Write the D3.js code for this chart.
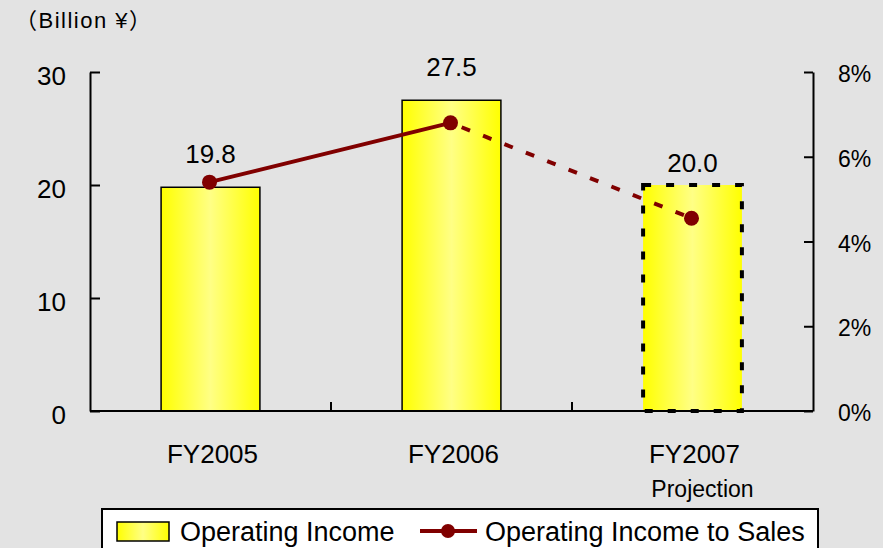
<!DOCTYPE html>
<html>
<head>
<meta charset="utf-8">
<script src="https://cdn.jsdelivr.net/npm/d3@7"></script>
<style>
  body { margin: 0; background: #e3e3e3; }
  svg text { font-family: "Liberation Sans", Arial, "Noto Sans CJK JP", sans-serif; fill: #000; }
</style>
</head>
<body>
<div id="chart"></div>
<script>
// data
const categories = ["FY2005", "FY2006", "FY2007"];
const operatingIncome = [19.8, 27.5, 20.0];      // billion yen
const incomeToSales = [5.4, 6.8, 4.55];          // percent
const projected = [false, false, true];
const leftTicks = [0, 10, 20, 30];
const rightTicks = [0, 2, 4, 6, 8];

const width = 883, height = 548;
const plot = { left: 90, right: 813, top: 72, bottom: 411 };

const svg = d3.select("#chart").append("svg")
    .attr("width", width)
    .attr("height", height);

svg.append("rect").attr("width", width).attr("height", height).attr("fill", "#e3e3e3");

// yellow bar fill, lighter in the middle
const grad = svg.append("defs").append("linearGradient")
    .attr("id", "barFill")
    .attr("x1", "0%").attr("x2", "100%").attr("y1", "0%").attr("y2", "0%");
grad.append("stop").attr("offset", "0%").attr("stop-color", "#ffff00");
grad.append("stop").attr("offset", "50%").attr("stop-color", "#ffff85");
grad.append("stop").attr("offset", "100%").attr("stop-color", "#ffff00");

const x = d3.scaleBand().domain(categories).range([plot.left, plot.right]);
const y = d3.scaleLinear().domain([0, 30]).range([plot.bottom, plot.top]);
const yR = d3.scaleLinear().domain([0, 8]).range([plot.bottom, plot.top]);
const barW = x.bandwidth() * 0.41;
const cx = c => x(c) + x.bandwidth() / 2;

// unit label
svg.append("text")
    .attr("x", 15).attr("y", 28)
    .style("font-size", "22px")
    .style("letter-spacing", "1.5px")
    .text("（Billion ¥）");

// left axis, ticks pointing inward
const left = svg.append("g")
    .attr("transform", `translate(${plot.left},0)`)
    .call(d3.axisLeft(y).tickValues(leftTicks).tickSizeInner(-10).tickSizeOuter(0).tickPadding(24));
left.selectAll("text").style("font-size", "26px").attr("dy", "0.47em");

// right axis
const right = svg.append("g")
    .attr("transform", `translate(${plot.right},0)`)
    .call(d3.axisRight(yR).tickValues(rightTicks).tickFormat(d => d + "%")
        .tickSizeInner(-9).tickSizeOuter(0).tickPadding(25));
right.selectAll("text").style("font-size", "23px").attr("dy", "0.42em");

[left, right].forEach(g => {
    g.select(".domain").attr("stroke", "#000").attr("stroke-width", 2);
    g.selectAll(".tick line").attr("stroke", "#000").attr("stroke-width", 2);
    g.selectAll("text").attr("font-family", null);
});

// bars
svg.selectAll(".bar")
    .data(categories)
    .enter().append("rect")
    .attr("class", "bar")
    .attr("x", c => cx(c) - barW / 2)
    .attr("y", (c, i) => y(operatingIncome[i]))
    .attr("width", barW)
    .attr("height", (c, i) => y(0) - y(operatingIncome[i]))
    .attr("fill", "url(#barFill)")
    .attr("stroke", "#000")
    .attr("stroke-width", (c, i) => projected[i] ? 4 : 1.5)
    .attr("stroke-dasharray", (c, i) => projected[i] ? "8,15" : null);

// bottom axis with ticks between categories
svg.append("line")
    .attr("x1", plot.left).attr("x2", plot.right)
    .attr("y1", plot.bottom).attr("y2", plot.bottom)
    .attr("stroke", "#000").attr("stroke-width", 2);
svg.selectAll(".xtick")
    .data(categories.slice(1))
    .enter().append("line")
    .attr("x1", c => x(c)).attr("x2", c => x(c))
    .attr("y1", plot.bottom).attr("y2", plot.bottom - 9)
    .attr("stroke", "#000").attr("stroke-width", 2);

svg.selectAll(".xlabel")
    .data(categories)
    .enter().append("text")
    .attr("x", c => cx(c) + 2)
    .attr("y", 463)
    .attr("text-anchor", "middle")
    .style("font-size", "26px")
    .text(c => c);

svg.append("text")
    .attr("x", cx(categories[2]) + 10)
    .attr("y", 497)
    .attr("text-anchor", "middle")
    .style("font-size", "23px")
    .text("Projection");

// bar value labels
svg.selectAll(".vlabel")
    .data(categories)
    .enter().append("text")
    .attr("x", c => cx(c))
    .attr("y", (c, i) => y(operatingIncome[i]) - (projected[i] ? 13 : 24))
    .attr("text-anchor", "middle")
    .style("font-size", "26px")
    .text((c, i) => operatingIncome[i].toFixed(1));

// ratio line: solid for actuals, dashed into the projection
const pts = categories.map((c, i) => ({ c: c, v: incomeToSales[i], p: projected[i] }));
const line = d3.line().x(d => cx(d.c) - 1).y(d => yR(d.v));
for (let i = 0; i < pts.length - 1; i++) {
    svg.append("path")
        .attr("d", line([pts[i], pts[i + 1]]))
        .attr("fill", "none")
        .attr("stroke", "#800000")
        .attr("stroke-width", 4)
        .attr("stroke-dasharray", pts[i + 1].p ? "9,14" : null)
        .attr("stroke-dashoffset", pts[i + 1].p ? -12 : null);
}
svg.selectAll(".dot")
    .data(pts)
    .enter().append("circle")
    .attr("cx", d => cx(d.c) - 1)
    .attr("cy", d => yR(d.v))
    .attr("r", 7.5)
    .attr("fill", "#800000");

// legend
const lg = svg.append("g");
lg.append("rect")
    .attr("x", 102).attr("y", 509).attr("width", 716).attr("height", 60)
    .attr("fill", "#fff").attr("stroke", "#000").attr("stroke-width", 2);
lg.append("rect")
    .attr("x", 117).attr("y", 522).attr("width", 52).attr("height", 19)
    .attr("fill", "url(#barFill)").attr("stroke", "#000").attr("stroke-width", 1.5);
lg.append("text").attr("x", 180).attr("y", 541).style("font-size", "27px").text("Operating Income");
lg.append("line")
    .attr("x1", 420).attr("x2", 477).attr("y1", 531).attr("y2", 531)
    .attr("stroke", "#800000").attr("stroke-width", 4);
lg.append("circle").attr("cx", 448).attr("cy", 531).attr("r", 7).attr("fill", "#800000");
lg.append("text").attr("x", 485).attr("y", 541).style("font-size", "27px").text("Operating Income to Sales");
</script>
</body>
</html>
